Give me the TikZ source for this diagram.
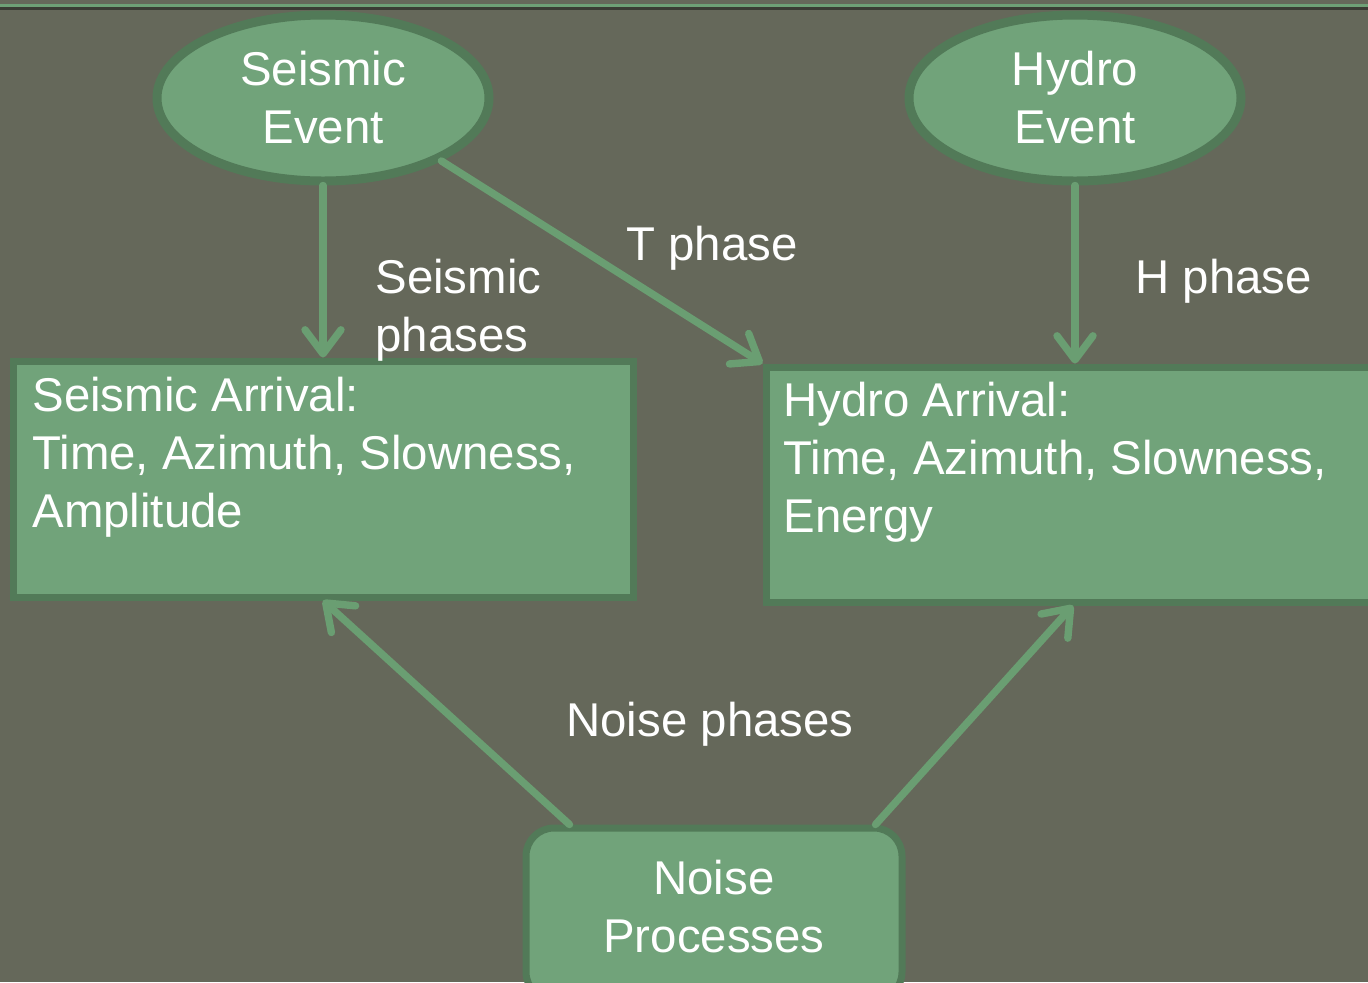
\documentclass[tikz,border=0pt]{standalone}
\usepackage{fontspec}
\setmainfont{Liberation Sans}
\usetikzlibrary{shapes.geometric,arrows.meta,calc}

\definecolor{bgolive}{RGB}{101,104,90}
\definecolor{boxfill}{RGB}{113,163,122}
\definecolor{boxline}{RGB}{82,122,88}
\definecolor{arrowgreen}{RGB}{106,158,114}
\definecolor{rulegreen}{RGB}{110,160,118}
\definecolor{ruledark}{RGB}{58,60,52}

\tikzset{
  txt/.style={text=white, font=\fontsize{23.7pt}{29pt}\selectfont},
  eventnode/.style={ellipse, draw=boxline, fill=boxfill, line width=4.5pt,
    minimum width=166pt, minimum height=83pt, inner sep=0pt, txt, align=center},
  arrivalbox/.style={rectangle, draw=boxline, fill=boxfill, line width=3.5pt,
    minimum height=118pt, inner sep=0pt},
  sourcebox/.style={rectangle, rounded corners=14pt, draw=boxline, fill=boxfill,
    line width=3.5pt, minimum width=188pt, minimum height=86pt, inner sep=0pt,
    txt, align=center, text depth=8pt},
  flow/.style={draw=arrowgreen, line width=3.7pt, line cap=round,
    -{Straight Barb[length=12pt,width=18pt,line cap=round,line join=round]}},
  lbl/.style={txt, inner sep=0pt, anchor=north west, align=left}
}

\begin{document}
\begin{tikzpicture}[x=0.5pt, y=-0.5pt]
  \useasboundingbox (0,0) rectangle (1368,982);
  \clip (0,0) rectangle (1368,982);
  \fill[bgolive] (0,0) rectangle (1368,982);

  % header rules
  \fill[rulegreen] (0,4) rectangle (1368,7);
  \fill[ruledark] (0,7) rectangle (1368,10);

  % events
  \node[eventnode] (se) at (323,98) {Seismic\\Event};
  \node[eventnode] (he) at (1075,98) {Hydro\\Event};

  % arrivals
  \node[arrivalbox, minimum width=310pt] (sa) at (323,479) {};
  \node[arrivalbox, minimum width=307pt, minimum height=117.5pt] (ha) at (1073,484.5) {};

  % noise source
  \node[sourcebox] (np) at (714,914) {Noise\\Processes};

  % box contents
  \node[lbl] (satext) at (32,377) {Seismic Arrival:\\Time, Azimuth, Slowness,\\Amplitude};
  \node[lbl] (hatext) at (783,382) {Hydro Arrival:\\Time, Azimuth, Slowness,\\Energy};

  % phase connectors
  \draw[flow] (se.south) -- (se.south |- sa.north);
  \draw[flow] (se.-28) -- (ha.north west);
  \draw[flow] (he.south) -- (he.south |- ha.north);

  \coordinate (nl) at ($(np.north west)+(47,0)$);
  \coordinate (nr) at ($(np.north east)+(-30,0)$);
  \draw[flow] (nl) -- (sa.south);
  \draw[flow] (nr) -- (ha.south);

  % phase labels
  \node[lbl] (lseis) at (375,259) {Seismic\\phases};
  \node[lbl] (lt) at (626,226) {T phase};
  \node[lbl] (lh) at (1135,259) {H phase};
  \node[lbl] (lnoise) at (566,702) {Noise phases};
\end{tikzpicture}
\end{document}
